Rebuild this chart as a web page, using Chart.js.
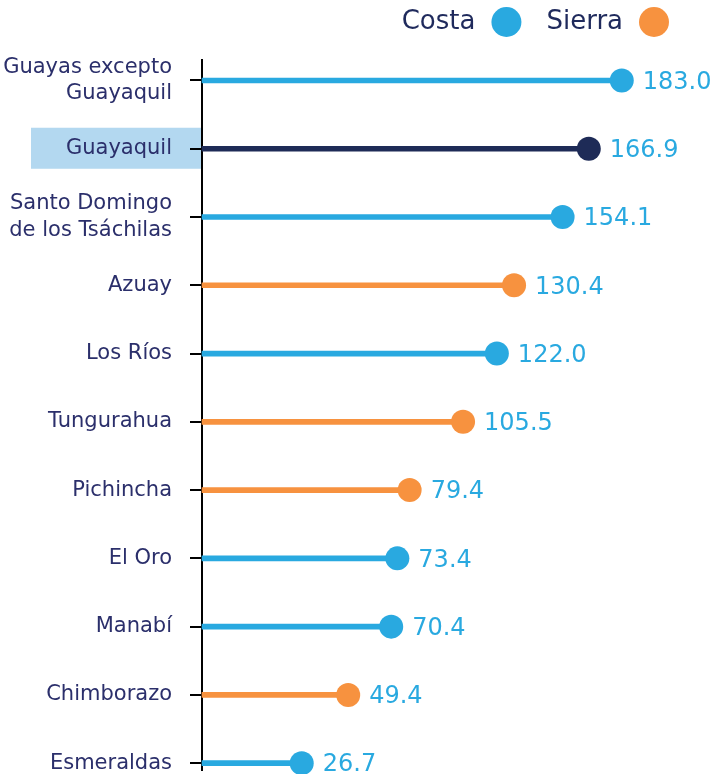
<!DOCTYPE html>
<html>
<head>
<meta charset="utf-8">
<script src="https://cdn.jsdelivr.net/npm/chart.js@4"></script>
<style>
  html, body { margin: 0; padding: 0; background: #fff; }
  #wrap { width: 714px; height: 774px; position: relative; }
</style>
</head>
<body>
<div id="wrap"><canvas id="chart"></canvas></div>
<script>
// data
const provinces = [
  'Guayas excepto\nGuayaquil',
  'Guayaquil',
  'Santo Domingo\nde los Tsáchilas',
  'Azuay',
  'Los Ríos',
  'Tungurahua',
  'Pichincha',
  'El Oro',
  'Manabí',
  'Chimborazo',
  'Esmeraldas'
];
const values = [183.0, 166.9, 154.1, 130.4, 122.0, 105.5, 79.4, 73.4, 70.4, 49.4, 26.7];
const region = ['Costa', 'Guayaquil', 'Costa', 'Sierra', 'Costa', 'Sierra', 'Sierra', 'Costa', 'Costa', 'Sierra', 'Costa'];
const legendItems = ['Costa', 'Sierra'];
const highlighted = 'Guayaquil';

const COLORS = { Costa: '#29a9e0', Sierra: '#f7923f', Guayaquil: '#1e2b57' };
const LABEL_COLOR = '#2b2f6b';
const FONT = "'DejaVu Sans', sans-serif";
const X_MIN = -22, X_MAX = 209;

const pointColors = region.map(r => COLORS[r]);

// light blue box behind the highlighted label
const highlightBox = {
  id: 'highlightBox',
  beforeDraw(chart) {
    const y = chart.scales.y;
    const i = provinces.indexOf(highlighted);
    const cy = y.getPixelForValue(i);
    const ctx = chart.ctx;
    ctx.save();
    ctx.fillStyle = '#b3d8f0';
    ctx.fillRect(31, cy - 21, chart.chartArea.left - 32, 41);
    ctx.restore();
  }
};

// value numbers right of each dot
const valueLabels = {
  id: 'valueLabels',
  afterDatasetsDraw(chart) {
    const meta = chart.getDatasetMeta(0);
    const ctx = chart.ctx;
    ctx.save();
    ctx.font = '24px ' + FONT;
    ctx.fillStyle = '#29a9e0';
    ctx.textAlign = 'left';
    ctx.textBaseline = 'middle';
    meta.data.forEach((pt, i) => {
      ctx.fillText(values[i].toFixed(1), pt.x + 21, pt.y + 2);
    });
    ctx.restore();
  }
};

// legend: text first, then the dot
const customLegend = {
  id: 'customLegend',
  afterDraw(chart) {
    const ctx = chart.ctx;
    ctx.save();
    ctx.font = '26px ' + FONT;
    ctx.textBaseline = 'middle';
    ctx.textAlign = 'left';
    let endX = 669;
    const cy = 22;
    for (let k = legendItems.length - 1; k >= 0; k--) {
      const name = legendItems[k];
      const w = ctx.measureText(name).width;
      ctx.fillStyle = COLORS[name];
      ctx.beginPath();
      ctx.arc(endX - 15, cy, 15, 0, Math.PI * 2);
      ctx.fill();
      const textLeft = endX - 30 - 16 - w;
      ctx.fillStyle = '#1f2a5c';
      ctx.fillText(name, textLeft, cy);
      endX = textLeft - 25;
    }
    ctx.restore();
  }
};

new Chart(document.getElementById('chart'), {
  type: 'bar',
  data: {
    datasets: [
      {
        type: 'scatter',
        data: values.map((v, i) => ({ x: v, y: i })),
        backgroundColor: pointColors,
        borderWidth: 0,
        pointRadius: 12,
        pointHoverRadius: 12,
        clip: false
      },
      {
        type: 'bar',
        indexAxis: 'y',
        data: values.map((v, i) => ({ x: [X_MIN, v], y: i })),
        backgroundColor: pointColors,
        barThickness: 5,
        borderWidth: 0,
        clip: false
      }
    ]
  },
  options: {
    indexAxis: 'y',
    responsive: true,
    maintainAspectRatio: false,
    animation: false,
    layout: { autoPadding: false, padding: { top: 60, right: 39, bottom: 4, left: 0 } },
    plugins: {
      legend: { display: false },
      tooltip: { enabled: false }
    },
    scales: {
      x: {
        type: 'linear',
        min: X_MIN,
        max: X_MAX,
        display: false
      },
      y: {
        type: 'linear',
        reverse: true,
        offset: false,
        min: -0.3,
        max: 10.1,
        afterBuildTicks(scale) {
          scale.ticks = provinces.map((p, i) => ({ value: i }));
        },
        afterFit(scale) {
          scale.width = 202;
          scale.paddingTop = 0;
          scale.paddingBottom = 0;
        },
        border: { display: true, color: '#000', width: 2 },
        grid: {
          display: true,
          offset: false,
          drawOnChartArea: false,
          drawTicks: true,
          tickLength: 12,
          color: '#000',
          lineWidth: 2
        },
        ticks: {
          padding: 18,
          color: LABEL_COLOR,
          font: { family: FONT, size: 21, lineHeight: 1.25 },
          callback: (value) => {
            const p = provinces[value];
            return p ? p.split('\n') : '';
          }
        }
      }
    }
  },
  plugins: [highlightBox, valueLabels, customLegend]
});
</script>
</body>
</html>
